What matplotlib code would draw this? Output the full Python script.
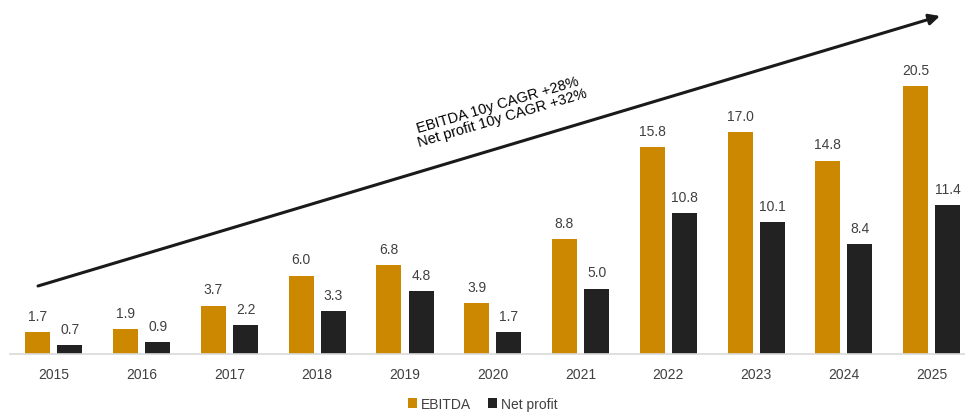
import matplotlib.pyplot as plt
import numpy as np

plt.rcParams['font.family'] = ['Liberation Sans', 'DejaVu Sans']

years = ['2015', '2016', '2017', '2018', '2019', '2020', '2021', '2022', '2023', '2024', '2025']
ebitda = [1.7, 1.9, 3.7, 6.0, 6.8, 3.9, 8.8, 15.8, 17.0, 14.8, 20.5]
net_profit = [0.7, 0.9, 2.2, 3.3, 4.8, 1.7, 5.0, 10.8, 10.1, 8.4, 11.4]

gold = '#CC8800'
dark = '#222222'
txt = '#404040'
fs = 10

fig = plt.figure(figsize=(9.65, 4.14), dpi=100)
ax = fig.add_axes([0.0104, 59 / 414, 0.9896, 353 / 414])

x = np.arange(len(years))
w = 0.285
off = 0.183
b1 = ax.bar(x - off, ebitda, w, color=gold, label='EBITDA')
b2 = ax.bar(x + off, net_profit, w, color=dark, label='Net profit')

for bars, vals in ((b1, ebitda), (b2, net_profit)):
    for b, v in zip(bars, vals):
        ax.text(b.get_x() + b.get_width() / 2, v + 0.7, f'{v:.1f}',
                ha='center', va='bottom', fontsize=fs, color=txt)

ax.set_xlim(-0.5, 10.38)
ax.set_ylim(0, 27)
ax.set_xticks(x)
ax.set_xticklabels(years, fontsize=fs, color=txt)
ax.tick_params(axis='x', length=0, pad=9.5)
ax.set_yticks([])
for s in ('top', 'right', 'left'):
    ax.spines[s].set_visible(False)
ax.spines['bottom'].set_color('#d9d9d9')
ax.spines['bottom'].set_linewidth(1.2)

# growth arrow across the whole period
ax.annotate('', xy=(940 / 965, 1 - 17 / 414), xycoords='figure fraction',
            xytext=(38 / 965, 1 - 287 / 414), textcoords='figure fraction',
            arrowprops=dict(arrowstyle='-|>', color='#1a1a1a', lw=2.2,
                            mutation_scale=16, shrinkA=0, shrinkB=0))
fig.text(500 / 965, 1 - 112 / 414, 'EBITDA 10y CAGR +28%\nNet profit 10y CAGR +32%',
         rotation=16.5, ha='center', va='center', fontsize=10.5, color='black',
         linespacing=1.0, rotation_mode='anchor')

fig.legend(handles=[b1, b2], loc='center', bbox_to_anchor=(0.5, 1 - 405 / 414),
           ncol=2, frameon=False, fontsize=fs, handlelength=0.65, handleheight=0.65,
           handletextpad=0.3, columnspacing=1.2, labelcolor=txt)

fig.savefig('out.png', dpi=100)
